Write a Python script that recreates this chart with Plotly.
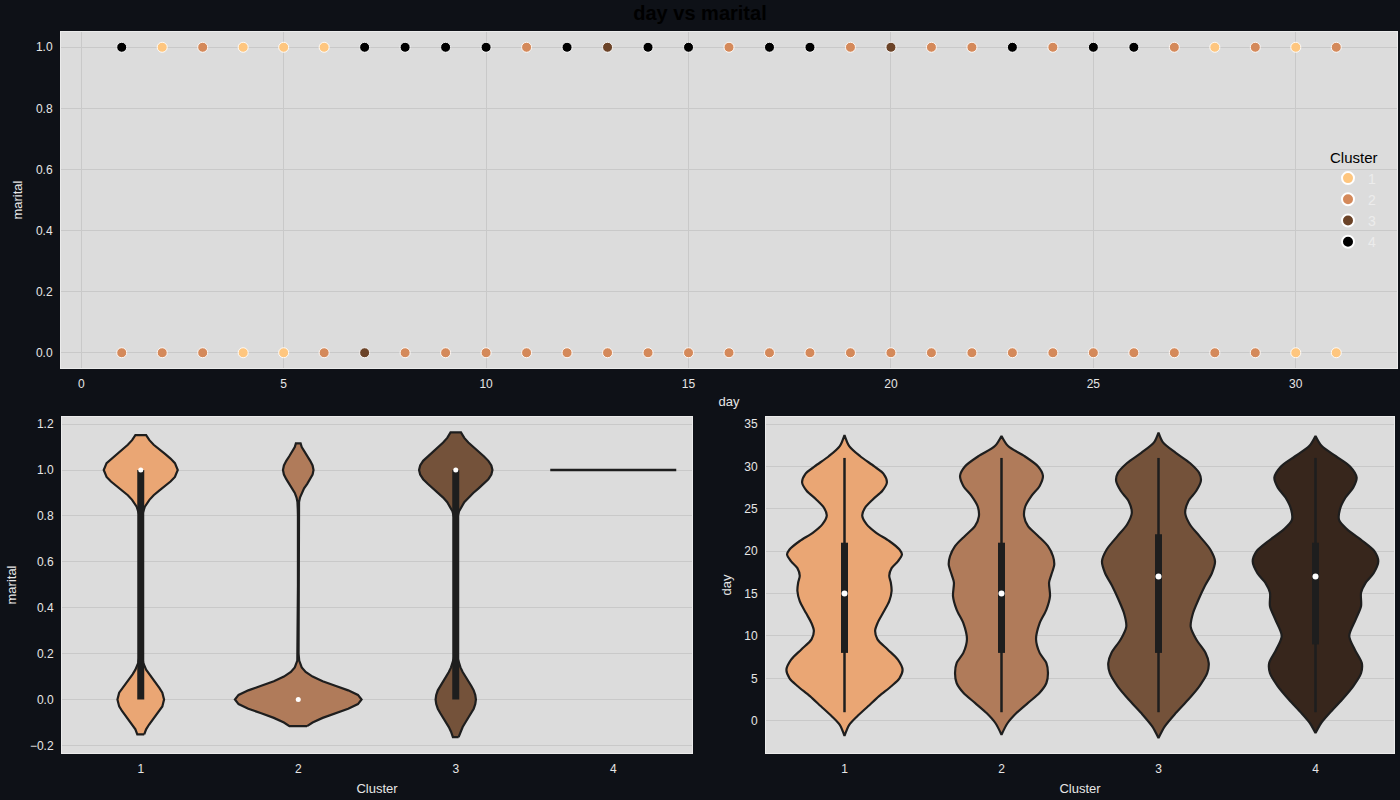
import plotly.graph_objects as go

# ---------------- data ----------------
DAYS = list(range(1, 32))
# cluster shown at each day for marital == 1 and marital == 0 (top scatter)
CLUSTER_AT_MARITAL_1 = [4, 1, 2, 1, 1, 1, 4, 4, 4, 4, 2, 4, 3, 4, 4, 2, 4, 4, 2, 3, 2, 2, 4, 2, 4, 4, 2, 1, 2, 1, 2]
CLUSTER_AT_MARITAL_0 = [2, 2, 2, 1, 1, 2, 3, 2, 2, 2, 2, 2, 2, 2, 2, 2, 2, 2, 2, 2, 2, 2, 2, 2, 2, 2, 2, 2, 2, 1, 1]
CLUSTERS = ["1", "2", "3", "4"]

SCATTER_COLORS = ["#fec67f", "#d4895a", "#6b4328", "#000000"]
VIOLIN_COLORS = ["#eaa674", "#b07b5a", "#74523a", "#37261c"]

# marital violin profiles: (marital value, half width in category units)
MARITAL_VIOLIN_C1 = [(-0.152, 0.022), (-0.13, 0.034), (-0.11, 0.052), (-0.09, 0.073), (-0.07, 0.097),
                     (-0.05, 0.119), (-0.03, 0.137), (0.0, 0.148), (0.03, 0.137), (0.05, 0.119),
                     (0.07, 0.097), (0.09, 0.073), (0.11, 0.052), (0.13, 0.034), (0.16, 0.016),
                     (0.2, 0.005), (0.25, 0.002), (0.5, 0.002), (0.75, 0.002), (0.8, 0.007),
                     (0.84, 0.026), (0.87, 0.055), (0.89, 0.082), (0.91, 0.117), (0.93, 0.154),
                     (0.95, 0.189), (0.97, 0.217), (1.0, 0.235), (1.03, 0.217), (1.05, 0.189),
                     (1.07, 0.154), (1.09, 0.117), (1.11, 0.082), (1.13, 0.055), (1.152, 0.034)]
MARITAL_VIOLIN_C2 = [(-0.116, 0.056), (-0.1, 0.091), (-0.08, 0.155), (-0.06, 0.235), (-0.04, 0.317),
                     (-0.02, 0.379), (0.0, 0.402), (0.02, 0.379), (0.04, 0.317), (0.06, 0.235),
                     (0.08, 0.155), (0.1, 0.091), (0.12, 0.047), (0.14, 0.022), (0.17, 0.006),
                     (0.2, 0.002), (0.5, 0.002), (0.8, 0.002), (0.83, 0.003), (0.86, 0.005),
                     (0.88, 0.011), (0.9, 0.022), (0.92, 0.037), (0.94, 0.057), (0.96, 0.076),
                     (0.98, 0.091), (1.0, 0.097), (1.02, 0.091), (1.04, 0.076), (1.06, 0.057),
                     (1.08, 0.037), (1.1, 0.022), (1.116, 0.015)]
MARITAL_VIOLIN_C3 = [(-0.164, 0.018), (-0.14, 0.030), (-0.12, 0.044), (-0.1, 0.061), (-0.08, 0.079),
                     (-0.06, 0.098), (-0.04, 0.114), (-0.02, 0.124), (0.0, 0.128), (0.02, 0.124),
                     (0.04, 0.114), (0.06, 0.098), (0.08, 0.079), (0.1, 0.061), (0.12, 0.044),
                     (0.14, 0.030), (0.18, 0.012), (0.21, 0.005), (0.25, 0.002), (0.5, 0.002),
                     (0.75, 0.002), (0.79, 0.009), (0.82, 0.021), (0.86, 0.054), (0.88, 0.080),
                     (0.9, 0.111), (0.92, 0.145), (0.94, 0.178), (0.96, 0.207), (0.98, 0.226),
                     (1.0, 0.233), (1.02, 0.226), (1.04, 0.207), (1.06, 0.178), (1.08, 0.145),
                     (1.1, 0.111), (1.12, 0.080), (1.14, 0.054), (1.164, 0.033)]
MARITAL_C4_VALUE = 1.0
MARITAL_C4_HALF_WIDTH = 0.4

MARITAL_Q1 = [0, 0, 0, None]
MARITAL_Q3 = [1, 0, 1, None]
MARITAL_MEDIAN = [1, 0, 1, None]

# day violin profiles: (day, half width in category units)
DAY_VIOLIN_C1 = [(-1.8, 0.0), (-0.5, 0.03), (0.5, 0.08), (1.7, 0.15), (2.9, 0.22), (4.1, 0.30),
                 (5.0, 0.35), (6.0, 0.37), (7.2, 0.34), (8.4, 0.275), (9.6, 0.21), (10.6, 0.195),
                 (11.5, 0.21), (12.7, 0.245), (14.1, 0.285), (15.3, 0.30), (16.3, 0.295), (17.1, 0.285),
                 (18.0, 0.30), (18.8, 0.34), (19.6, 0.366), (20.2, 0.35), (21.2, 0.285), (22.2, 0.20),
                 (23.2, 0.14), (24.2, 0.113), (25.1, 0.13), (26.1, 0.18), (27.1, 0.24), (28.1, 0.27),
                 (29.1, 0.25), (30.0, 0.19), (31.2, 0.10), (32.4, 0.03), (33.7, 0.0)]
DAY_VIOLIN_C2 = [(-1.65, 0.0), (-0.3, 0.038), (0.9, 0.095), (2.1, 0.169), (3.3, 0.243), (4.45, 0.286),
                 (5.6, 0.296), (6.8, 0.286), (8.0, 0.243), (9.6, 0.22), (11.5, 0.243), (13.1, 0.286),
                 (14.7, 0.309), (16.3, 0.303), (17.2, 0.317), (18.4, 0.336), (19.4, 0.328), (20.6, 0.296),
                 (21.8, 0.233), (22.95, 0.169), (24.1, 0.144), (25.3, 0.152), (26.5, 0.19), (27.7, 0.243),
                 (28.9, 0.264), (30.0, 0.233), (31.2, 0.148), (32.4, 0.042), (33.6, 0.0)]
DAY_VIOLIN_C3 = [(-2.05, 0.0), (-0.67, 0.04), (0.9, 0.11), (2.5, 0.19), (4.06, 0.26), (5.6, 0.31),
                 (6.8, 0.32), (8.0, 0.30), (9.6, 0.24), (11.1, 0.205), (12.7, 0.22), (14.3, 0.255),
                 (15.9, 0.295), (17.4, 0.34), (18.8, 0.36), (20.2, 0.33), (21.8, 0.26), (23.15, 0.20),
                 (24.5, 0.17), (25.9, 0.19), (27.1, 0.24), (28.3, 0.27), (29.2, 0.26), (30.4, 0.20),
                 (31.6, 0.11), (32.8, 0.03), (34.0, 0.0)]
DAY_VIOLIN_C4 = [(-1.46, 0.0), (-0.3, 0.035), (0.9, 0.09), (2.5, 0.17), (4.06, 0.24), (5.6, 0.29),
                 (6.8, 0.295), (8.4, 0.25), (10.0, 0.215), (11.9, 0.255), (13.5, 0.29), (15.1, 0.29),
                 (16.3, 0.32), (17.4, 0.37), (18.8, 0.40), (20.0, 0.375), (21.2, 0.30), (22.6, 0.20),
                 (23.7, 0.15), (24.9, 0.155), (26.3, 0.19), (27.5, 0.24), (28.7, 0.262), (30.0, 0.22),
                 (31.2, 0.13), (32.4, 0.04), (33.6, 0.0)]

DAY_Q1 = [8, 8, 8, 9]
DAY_Q3 = [21, 21, 22, 21]
DAY_MEDIAN = [15, 15, 17, 17]
DAY_WHISKER_LO = [1, 1, 1, 1]
DAY_WHISKER_HI = [31, 31, 31, 31]

# ---------------- style ----------------
PAPER_BG = "#0e1117"
PLOT_BG = "#dcdcdc"
GRID = "#c9c9c9"
TICK_COLOR = "#e6e6e6"
FONT = "Liberation Sans, Arial, sans-serif"
OUTLINE = "#1e1e1e"

fig = go.Figure()

# ---------------- top scatter ----------------
for ci, cname in enumerate(CLUSTERS):
    cid = ci + 1
    xs, ys = [], []
    for d, c in zip(DAYS, CLUSTER_AT_MARITAL_1):
        if c == cid:
            xs.append(d); ys.append(1)
    for d, c in zip(DAYS, CLUSTER_AT_MARITAL_0):
        if c == cid:
            xs.append(d); ys.append(0)
    fig.add_trace(go.Scatter(
        x=xs, y=ys, mode="markers", name=cname, xaxis="x", yaxis="y",
        marker=dict(size=10, color=SCATTER_COLORS[ci], line=dict(color="white", width=0.9)),
        showlegend=True,
    ))


def violin_polygon(pos, profile):
    ys = [p[0] for p in profile]
    ws = [p[1] for p in profile]
    x = [pos + w for w in ws] + [pos - w for w in reversed(ws)]
    y = ys + list(reversed(ys))
    x.append(x[0]); y.append(y[0])
    return x, y


# ---------------- bottom-left: marital violins ----------------
marital_profiles = [MARITAL_VIOLIN_C1, MARITAL_VIOLIN_C2, MARITAL_VIOLIN_C3]
for i, prof in enumerate(marital_profiles):
    vx, vy = violin_polygon(i, prof)
    fig.add_trace(go.Scatter(x=vx, y=vy, mode="lines", fill="toself", fillcolor=VIOLIN_COLORS[i],
                             line=dict(color=OUTLINE, width=2.2), xaxis="x2", yaxis="y2",
                             showlegend=False, hoverinfo="skip"))
# cluster 4: single value -> line
fig.add_trace(go.Scatter(x=[3 - MARITAL_C4_HALF_WIDTH, 3 + MARITAL_C4_HALF_WIDTH],
                         y=[MARITAL_C4_VALUE, MARITAL_C4_VALUE], mode="lines",
                         line=dict(color=OUTLINE, width=2.5), xaxis="x2", yaxis="y2",
                         showlegend=False, hoverinfo="skip"))
for i in range(4):
    if MARITAL_Q1[i] is None:
        continue
    if MARITAL_Q3[i] > MARITAL_Q1[i]:
        fig.add_trace(go.Scatter(x=[i, i], y=[MARITAL_Q1[i], MARITAL_Q3[i]], mode="lines",
                                 line=dict(color=OUTLINE, width=7), xaxis="x2", yaxis="y2",
                                 showlegend=False, hoverinfo="skip"))
    fig.add_trace(go.Scatter(x=[i], y=[MARITAL_MEDIAN[i]], mode="markers",
                             marker=dict(color="white", size=5, line=dict(width=0)),
                             xaxis="x2", yaxis="y2", showlegend=False, hoverinfo="skip"))

# ---------------- bottom-right: day violins ----------------
day_profiles = [DAY_VIOLIN_C1, DAY_VIOLIN_C2, DAY_VIOLIN_C3, DAY_VIOLIN_C4]
for i, prof in enumerate(day_profiles):
    vx, vy = violin_polygon(i, prof)
    fig.add_trace(go.Scatter(x=vx, y=vy, mode="lines", fill="toself", fillcolor=VIOLIN_COLORS[i],
                             line=dict(color=OUTLINE, width=2.2, shape="spline", smoothing=0.8),
                             xaxis="x3", yaxis="y3", showlegend=False, hoverinfo="skip"))
for i in range(4):
    fig.add_trace(go.Scatter(x=[i, i], y=[DAY_WHISKER_LO[i], DAY_WHISKER_HI[i]], mode="lines",
                             line=dict(color=OUTLINE, width=2.5), xaxis="x3", yaxis="y3",
                             showlegend=False, hoverinfo="skip"))
    fig.add_trace(go.Scatter(x=[i, i], y=[DAY_Q1[i], DAY_Q3[i]], mode="lines",
                             line=dict(color=OUTLINE, width=7), xaxis="x3", yaxis="y3",
                             showlegend=False, hoverinfo="skip"))
    fig.add_trace(go.Scatter(x=[i], y=[DAY_MEDIAN[i]], mode="markers",
                             marker=dict(color="white", size=6, line=dict(width=0)),
                             xaxis="x3", yaxis="y3", showlegend=False, hoverinfo="skip"))

# ---------------- layout ----------------
axis_common = dict(
    showline=True, linecolor="#ebebeb", linewidth=1, mirror=True,
    zeroline=False, gridcolor=GRID, gridwidth=1,
    ticks="outside", ticklen=5, tickcolor=PAPER_BG,
    tickfont=dict(color=TICK_COLOR, size=12, family=FONT),
    title_font=dict(color=TICK_COLOR, size=13, family=FONT),
)

W, H = 1400, 800
fig.update_layout(
    width=W, height=H,
    paper_bgcolor=PAPER_BG, plot_bgcolor=PLOT_BG,
    margin=dict(l=0, r=0, t=0, b=0),
    font=dict(family=FONT, color=TICK_COLOR),
    title=dict(text="<b>day vs marital</b>", x=0.5, xanchor="center", y=1 - 13 / H, yanchor="middle",
               font=dict(size=20, color="#000000", family=FONT)),
    xaxis=dict(domain=[61 / W, 1397 / W], anchor="y", range=[-0.5, 32.5],
               tickvals=[0, 5, 10, 15, 20, 25, 30], showgrid=True,
               title=dict(text="day", standoff=6), **axis_common),
    yaxis=dict(domain=[1 - 368 / H, 1 - 32 / H], anchor="x", range=[-0.05, 1.05],
               tickvals=[0, 0.2, 0.4, 0.6, 0.8, 1.0], tickformat=".1f", showgrid=True,
               title=dict(text="marital", standoff=10), **axis_common),
    xaxis2=dict(domain=[62 / W, 692 / W], anchor="y2", range=[-0.5, 3.5],
                tickvals=[0, 1, 2, 3], ticktext=CLUSTERS, showgrid=False,
                title=dict(text="Cluster", standoff=8), **axis_common),
    yaxis2=dict(domain=[1 - 753 / H, 1 - 417 / H], anchor="x2", range=[-0.233, 1.231],
                tickvals=[-0.2, 0, 0.2, 0.4, 0.6, 0.8, 1.0, 1.2], ticktext=["\u22120.2", "0.0", "0.2", "0.4", "0.6", "0.8", "1.0", "1.2"],
                showgrid=True, title=dict(text="marital", standoff=10), **axis_common),
    xaxis3=dict(domain=[766 / W, 1394 / W], anchor="y3", range=[-0.5, 3.5],
                tickvals=[0, 1, 2, 3], ticktext=CLUSTERS, showgrid=False,
                title=dict(text="Cluster", standoff=8), **axis_common),
    yaxis3=dict(domain=[1 - 753 / H, 1 - 417 / H], anchor="x3", range=[-3.81, 35.83],
                tickvals=[0, 5, 10, 15, 20, 25, 30, 35], showgrid=True,
                title=dict(text="day", standoff=9), **axis_common),
    legend=dict(x=1328 / W, y=1 - 143 / H, xanchor="left", yanchor="top",
                bgcolor="rgba(0,0,0,0)", borderwidth=0, tracegroupgap=0,
                font=dict(color="#ececec", size=14, family=FONT),
                title=dict(text="Cluster", font=dict(color="#000000", size=15, family=FONT)),
                itemsizing="constant"),
    showlegend=True,
)

fig.write_html("out.html")
